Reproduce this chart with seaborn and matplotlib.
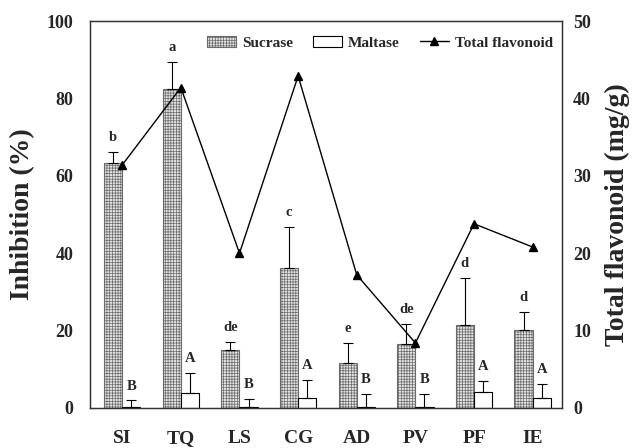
import numpy as np
import pandas as pd
import matplotlib
matplotlib.use("Agg")
import matplotlib.pyplot as plt
import seaborn as sns

# Plant extracts and measured values
extracts = ["SI", "TQ", "LS", "CG", "AD", "PV", "PF", "IE"]
sucrase = [63.3, 82.4, 15.0, 36.2, 11.7, 16.5, 21.4, 20.2]
sucrase_err = [2.8, 7.0, 2.1, 10.6, 5.1, 5.2, 12.2, 4.6]
maltase = [0.3, 3.9, 0.3, 2.7, 0.3, 0.3, 4.1, 2.6]
maltase_err = [1.7, 5.1, 2.0, 4.5, 3.3, 3.3, 2.9, 3.6]
flavonoid = [31.4, 41.4, 20.0, 42.9, 17.2, 8.4, 23.8, 20.8]
sucrase_letters = ["b", "a", "de", "c", "e", "de", "d", "d"]
maltase_letters = ["B", "A", "B", "A", "B", "B", "A", "A"]

sns.set_theme(style="white")
plt.rcParams["font.family"] = ["Liberation Serif", "DejaVu Serif"]
plt.rcParams["font.weight"] = "bold"
plt.rcParams["hatch.linewidth"] = 0.5

df = pd.DataFrame({
    "extract": extracts * 2,
    "enzyme": ["Sucrase"] * len(extracts) + ["Maltase"] * len(extracts),
    "inhibition": sucrase + maltase,
})

fig = plt.figure(figsize=(6.35, 4.48), dpi=100)
ax = fig.add_axes([0.1417, 0.0893, 0.7433, 0.8638])

sns.barplot(data=df, x="extract", y="inhibition", hue="enzyme",
            order=extracts, hue_order=["Sucrase", "Maltase"],
            palette={"Sucrase": "#e4e4e4", "Maltase": "white"},
            width=0.62, gap=0, errorbar=None, edgecolor="black",
            linewidth=0.8, legend=False, ax=ax)

suc_bars, mal_bars = ax.containers[0], ax.containers[1]
for p in suc_bars:
    p.set_hatch("++++++")
    if hasattr(p, "set_hatchcolor"):
        p.set_hatchcolor("#8c8c8c")
    else:
        p.set_edgecolor("#6a6a6a")

def add_errors(bars, vals, errs, letters):
    xs = [p.get_x() + p.get_width() / 2 for p in bars]
    ax.errorbar(xs, vals, yerr=[np.zeros(len(vals)), errs], fmt="none",
                ecolor="black", elinewidth=0.8, capsize=3.5, capthick=0.8)
    for x, v, e, t in zip(xs, vals, errs, letters):
        ax.text(x, v + e + 2.0, t, ha="center", va="bottom",
                fontsize=10.5, fontweight="bold")

add_errors(suc_bars, sucrase, sucrase_err, sucrase_letters)
add_errors(mal_bars, maltase, maltase_err, maltase_letters)

ax.set_xlim(-0.55, 7.5)
ax.set_ylim(0, 100)
ax.set_yticks([0, 20, 40, 60, 80, 100])
ax.set_xlabel("")
ax.set_ylabel("Inhibition (%)", fontsize=20, fontweight="bold", labelpad=8)
ax.tick_params(axis="y", length=0, pad=12, labelsize=13)
ax.tick_params(axis="x", length=0, pad=16, labelsize=14)
for lab in ax.get_xticklabels() + ax.get_yticklabels():
    lab.set_fontweight("bold")

ax2 = ax.twinx()
line, = ax2.plot(range(len(extracts)), flavonoid, color="black", lw=1.0,
                 marker="^", markersize=6, label="Total flavonoid")
ax2.set_ylim(0, 50)
ax2.set_yticks([0, 10, 20, 30, 40, 50])
ax2.set_ylabel("Total flavonoid (mg/g)", fontsize=20, fontweight="bold",
               labelpad=10)
ax2.tick_params(axis="y", length=0, pad=8, labelsize=13)
for lab in ax2.get_yticklabels():
    lab.set_fontweight("bold")
ax2.grid(False)

for a in (ax, ax2):
    for s in a.spines.values():
        s.set_color("#333333")
        s.set_linewidth(0.9)

ax.legend([suc_bars[0], mal_bars[0], line],
          ["Sucrase", "Maltase", "Total flavonoid"],
          loc="upper right", bbox_to_anchor=(1.0, 0.985), ncol=3,
          frameon=False, handlelength=1.9, handleheight=0.7,
          handletextpad=0.4, columnspacing=1.3, borderaxespad=0.2,
          prop={"weight": "bold", "size": 11})

fig.savefig("out.png", dpi=100)
